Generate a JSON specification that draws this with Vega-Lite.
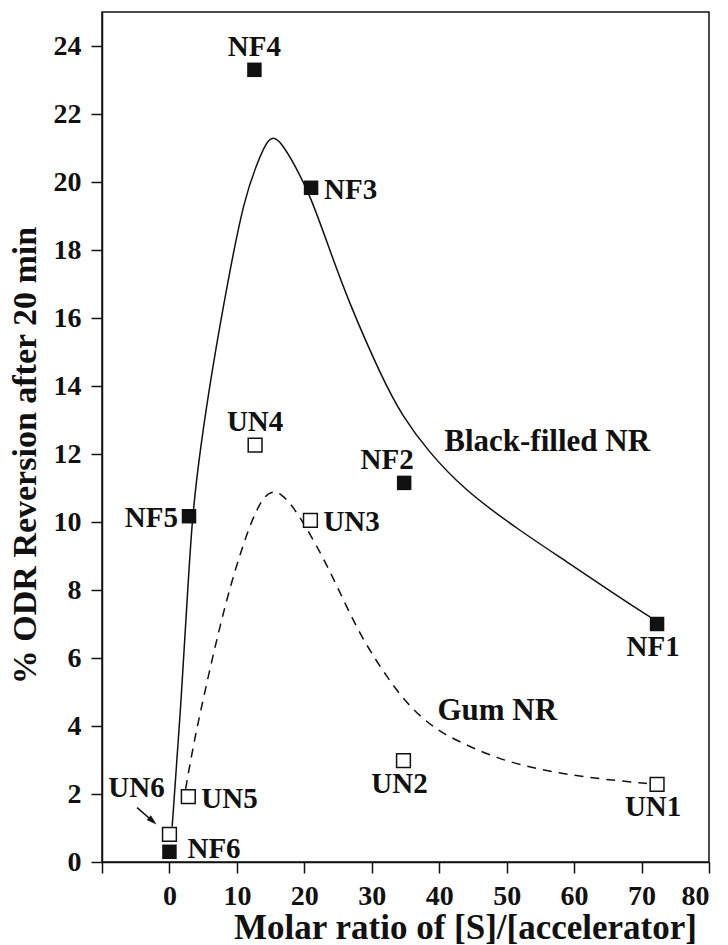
{
  "$schema": "https://vega.github.io/schema/vega-lite/v6.json",
  "autosize": "none",
  "padding": {"left": 102, "top": 12, "right": 19, "bottom": 83},
  "width": 607,
  "height": 850,
  "background": "white",
  "config": {
    "view": {"stroke": "#111", "strokeWidth": 1.5},
    "axis": {
      "grid": false,
      "domainColor": "#111",
      "domainWidth": 1.5,
      "tickColor": "#111",
      "tickWidth": 1.5,
      "labelFont": "Liberation Serif",
      "labelFontWeight": "bold",
      "labelFontSize": 28,
      "labelColor": "#111",
      "titleFont": "Liberation Serif",
      "titleFontWeight": "bold",
      "titleFontSize": 34,
      "titleColor": "#111"
    },
    "text": {"font": "Liberation Serif", "fontWeight": "bold", "fontSize": 29, "color": "#111"}
  },
  "datasets": {
    "points": [
      {"id": "NF1", "group": "Black-filled NR", "x": 72.3, "y": 7.0},
      {"id": "NF2", "group": "Black-filled NR", "x": 34.8, "y": 11.15},
      {"id": "NF3", "group": "Black-filled NR", "x": 21.0, "y": 19.83},
      {"id": "NF4", "group": "Black-filled NR", "x": 12.6, "y": 23.3},
      {"id": "NF5", "group": "Black-filled NR", "x": 2.9, "y": 10.17},
      {"id": "NF6", "group": "Black-filled NR", "x": 0.0, "y": 0.3},
      {"id": "UN1", "group": "Gum NR", "x": 72.3, "y": 2.28},
      {"id": "UN2", "group": "Gum NR", "x": 34.7, "y": 2.98},
      {"id": "UN3", "group": "Gum NR", "x": 20.9, "y": 10.05},
      {"id": "UN4", "group": "Gum NR", "x": 12.7, "y": 12.26},
      {"id": "UN5", "group": "Gum NR", "x": 2.8, "y": 1.92},
      {"id": "UN6", "group": "Gum NR", "x": 0.0, "y": 0.81}
    ],
    "curves": [
      {"group": "Black-filled NR", "x": 0.4, "y": 1.04},
      {"group": "Black-filled NR", "x": 1.59, "y": 4.28},
      {"group": "Black-filled NR", "x": 2.63, "y": 7.73},
      {"group": "Black-filled NR", "x": 3.37, "y": 10.17},
      {"group": "Black-filled NR", "x": 4.55, "y": 12.14},
      {"group": "Black-filled NR", "x": 6.34, "y": 14.5},
      {"group": "Black-filled NR", "x": 8.71, "y": 17.15},
      {"group": "Black-filled NR", "x": 11.08, "y": 19.51},
      {"group": "Black-filled NR", "x": 13.01, "y": 20.55},
      {"group": "Black-filled NR", "x": 14.3, "y": 21.15},
      {"group": "Black-filled NR", "x": 15.39, "y": 21.35},
      {"group": "Black-filled NR", "x": 16.6, "y": 21.15},
      {"group": "Black-filled NR", "x": 18.65, "y": 20.48},
      {"group": "Black-filled NR", "x": 20.88, "y": 19.6},
      {"group": "Black-filled NR", "x": 23.6, "y": 18.1},
      {"group": "Black-filled NR", "x": 26.39, "y": 16.56},
      {"group": "Black-filled NR", "x": 31.59, "y": 14.2},
      {"group": "Black-filled NR", "x": 34.6, "y": 13.1},
      {"group": "Black-filled NR", "x": 38.27, "y": 12.1},
      {"group": "Black-filled NR", "x": 43.61, "y": 10.96},
      {"group": "Black-filled NR", "x": 51.6, "y": 9.79},
      {"group": "Black-filled NR", "x": 59.0, "y": 8.82},
      {"group": "Black-filled NR", "x": 66.4, "y": 7.82},
      {"group": "Black-filled NR", "x": 71.3, "y": 7.2},
      {"group": "Gum NR", "x": 2.4, "y": 2.15},
      {"group": "Gum NR", "x": 3.6, "y": 3.5},
      {"group": "Gum NR", "x": 5.0, "y": 4.79},
      {"group": "Gum NR", "x": 7.23, "y": 6.75},
      {"group": "Gum NR", "x": 9.3, "y": 8.32},
      {"group": "Gum NR", "x": 11.53, "y": 9.7},
      {"group": "Gum NR", "x": 13.01, "y": 10.4},
      {"group": "Gum NR", "x": 14.2, "y": 10.78},
      {"group": "Gum NR", "x": 15.39, "y": 10.92},
      {"group": "Gum NR", "x": 16.6, "y": 10.82},
      {"group": "Gum NR", "x": 18.36, "y": 10.47},
      {"group": "Gum NR", "x": 21.92, "y": 9.29},
      {"group": "Gum NR", "x": 24.88, "y": 8.11},
      {"group": "Gum NR", "x": 28.3, "y": 6.64},
      {"group": "Gum NR", "x": 32.73, "y": 5.29},
      {"group": "Gum NR", "x": 35.7, "y": 4.55},
      {"group": "Gum NR", "x": 39.12, "y": 3.96},
      {"group": "Gum NR", "x": 41.65, "y": 3.66},
      {"group": "Gum NR", "x": 48.6, "y": 3.02},
      {"group": "Gum NR", "x": 56.5, "y": 2.64},
      {"group": "Gum NR", "x": 64.3, "y": 2.43},
      {"group": "Gum NR", "x": 71.3, "y": 2.3}
    ],
    "notes": [
      {"text": "Black-filled NR", "x": 56.0, "y": 12.08},
      {"text": "Gum NR", "x": 48.6, "y": 4.19}
    ],
    "arrow": [
      {"x": -4.8, "y": 1.6},
      {"x": -2.3, "y": 1.17}
    ],
    "arrowhead": [
      {"x": -2.3, "y": 1.17}
    ]
  },
  "layer": [
    {
      "data": {"name": "curves"},
      "transform": [{"filter": "datum.group === 'Black-filled NR'"}],
      "mark": {"type": "line", "interpolate": "basis", "color": "#111", "strokeWidth": 1.5},
      "encoding": {
        "x": {
          "field": "x", "type": "quantitative",
          "scale": {"domain": [-10, 80], "nice": false, "zero": false},
          "axis": {
            "title": "Molar ratio of [S]/[accelerator]",
            "values": [-10, -5, 0, 5, 10, 15, 20, 25, 30, 35, 40, 45, 50, 55, 60, 65, 70, 75, 80],
            "labelExpr": "datum.value >= 0 && datum.value % 10 === 0 ? datum.label : ''",
            "tickSize": {"condition": {"test": "datum.value % 10 === 0", "value": 11}, "value": 6},
            "labelPadding": 9,
            "titlePadding": 0,
            "titleX": 363,
            "titleFontSize": 35
          }
        },
        "y": {
          "field": "y", "type": "quantitative",
          "scale": {"domain": [0, 25], "nice": false, "zero": false},
          "axis": {
            "title": "% ODR Reversion after 20 min",
            "values": [0, 1, 2, 3, 4, 5, 6, 7, 8, 9, 10, 11, 12, 13, 14, 15, 16, 17, 18, 19, 20, 21, 22, 23, 24],
            "labelExpr": "datum.value % 2 === 0 ? datum.label : ''",
            "tickSize": {"condition": {"test": "datum.value % 2 === 0", "value": 11}, "value": 6},
            "labelPadding": 10,
            "titlePadding": 11,
            "titleY": 443
          }
        }
      }
    },
    {
      "data": {"name": "curves"},
      "transform": [{"filter": "datum.group === 'Gum NR'"}],
      "mark": {"type": "line", "interpolate": "basis", "color": "#111", "strokeWidth": 1.5, "strokeDash": [9, 7]},
      "encoding": {
        "x": {"field": "x", "type": "quantitative"},
        "y": {"field": "y", "type": "quantitative"}
      }
    },
    {
      "data": {"name": "arrow"},
      "mark": {"type": "line", "color": "#111", "strokeWidth": 1.5},
      "encoding": {
        "x": {"field": "x", "type": "quantitative"},
        "y": {"field": "y", "type": "quantitative"}
      }
    },
    {
      "data": {"name": "arrowhead"},
      "mark": {"type": "point", "shape": "M -1.2 -0.55 L 0.6 0 L -1.2 0.55 Z", "filled": true, "color": "#111", "size": 130, "angle": 41, "opacity": 1},
      "encoding": {
        "x": {"field": "x", "type": "quantitative"},
        "y": {"field": "y", "type": "quantitative"}
      }
    },
    {
      "data": {"name": "points"},
      "transform": [{"filter": "datum.group === 'Black-filled NR'"}],
      "mark": {"type": "point", "shape": "square", "filled": true, "color": "#111", "size": 210, "opacity": 1},
      "encoding": {
        "x": {"field": "x", "type": "quantitative"},
        "y": {"field": "y", "type": "quantitative"}
      }
    },
    {
      "data": {"name": "points"},
      "transform": [{"filter": "datum.group === 'Gum NR'"}],
      "mark": {"type": "point", "shape": "square", "filled": true, "fill": "white", "stroke": "#111", "strokeWidth": 1.5, "size": 190, "opacity": 1},
      "encoding": {
        "x": {"field": "x", "type": "quantitative"},
        "y": {"field": "y", "type": "quantitative"}
      }
    },
    {
      "data": {"name": "points"},
      "transform": [{"filter": {"field": "id", "oneOf": ["NF4", "UN4"]}}],
      "mark": {"type": "text", "align": "center", "baseline": "alphabetic", "dy": -14},
      "encoding": {
        "x": {"field": "x", "type": "quantitative"},
        "y": {"field": "y", "type": "quantitative"},
        "text": {"field": "id"}
      }
    },
    {
      "data": {"name": "points"},
      "transform": [{"filter": {"field": "id", "oneOf": ["NF2"]}}],
      "mark": {"type": "text", "align": "center", "baseline": "alphabetic", "dx": -17, "dy": -14},
      "encoding": {
        "x": {"field": "x", "type": "quantitative"},
        "y": {"field": "y", "type": "quantitative"},
        "text": {"field": "id"}
      }
    },
    {
      "data": {"name": "points"},
      "transform": [{"filter": {"field": "id", "oneOf": ["NF3", "UN3", "UN5"]}}],
      "mark": {"type": "text", "align": "left", "baseline": "alphabetic", "dx": 13, "dy": 11},
      "encoding": {
        "x": {"field": "x", "type": "quantitative"},
        "y": {"field": "y", "type": "quantitative"},
        "text": {"field": "id"}
      }
    },
    {
      "data": {"name": "points"},
      "transform": [{"filter": {"field": "id", "oneOf": ["NF6"]}}],
      "mark": {"type": "text", "align": "left", "baseline": "alphabetic", "dx": 18, "dy": 6},
      "encoding": {
        "x": {"field": "x", "type": "quantitative"},
        "y": {"field": "y", "type": "quantitative"},
        "text": {"field": "id"}
      }
    },
    {
      "data": {"name": "points"},
      "transform": [{"filter": {"field": "id", "oneOf": ["NF5"]}}],
      "mark": {"type": "text", "align": "right", "baseline": "alphabetic", "dx": -11, "dy": 11},
      "encoding": {
        "x": {"field": "x", "type": "quantitative"},
        "y": {"field": "y", "type": "quantitative"},
        "text": {"field": "id"}
      }
    },
    {
      "data": {"name": "points"},
      "transform": [{"filter": {"field": "id", "oneOf": ["NF1", "UN1", "UN2"]}}],
      "mark": {"type": "text", "align": "center", "baseline": "alphabetic", "dx": -4, "dy": 32},
      "encoding": {
        "x": {"field": "x", "type": "quantitative"},
        "y": {"field": "y", "type": "quantitative"},
        "text": {"field": "id"}
      }
    },
    {
      "data": {"name": "points"},
      "transform": [{"filter": {"field": "id", "oneOf": ["UN6"]}}],
      "mark": {"type": "text", "align": "center", "baseline": "alphabetic", "dx": -33, "dy": -37},
      "encoding": {
        "x": {"field": "x", "type": "quantitative"},
        "y": {"field": "y", "type": "quantitative"},
        "text": {"field": "id"}
      }
    },
    {
      "data": {"name": "notes"},
      "mark": {"type": "text", "align": "center", "baseline": "alphabetic", "fontSize": 31},
      "encoding": {
        "x": {"field": "x", "type": "quantitative"},
        "y": {"field": "y", "type": "quantitative"},
        "text": {"field": "text"}
      }
    }
  ]
}
